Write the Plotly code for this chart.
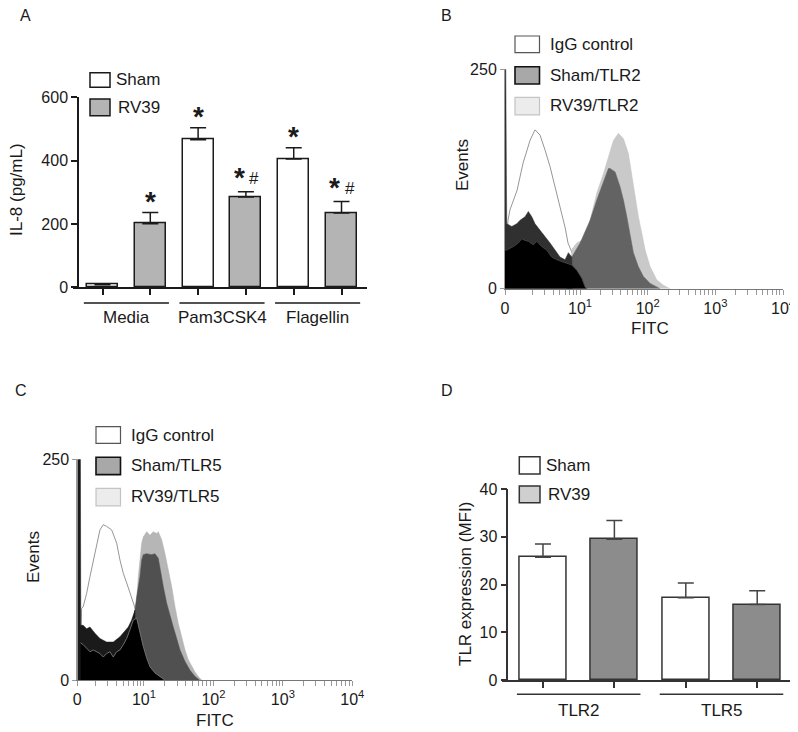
import numpy as np
import plotly.graph_objects as go

# the page body has an 8 px margin, so the figure is drawn 8 px in from the window corner
OFF = 8
W, H = 798 - OFF, 732 - OFF
FONT = "Liberation Sans, Arial, Helvetica, sans-serif"
INK = "#1a1a1a"

# ---------------- Panel A : IL-8 secretion ----------------
a_series = ["Sham", "RV39"]
a_groups = ["Media", "Pam3CSK4", "Flagellin"]
a_sham = [8, 466, 405]
a_sham_err = [0, 38, 36]
a_rv39 = [201, 285, 235]
a_rv39_err = [35, 17, 36]
a_sham_marks = ["", "*", "*"]
a_rv39_marks = ["*", "*#", "*#"]
a_yticks = [0, 200, 400, 600]

# ---------------- Panel D : TLR expression ----------------
d_series = ["Sham", "RV39"]
d_groups = ["TLR2", "TLR5"]
d_sham = [25.7, 17.2]
d_sham_err = [2.8, 3.1]
d_rv39 = [29.5, 15.8]
d_rv39_err = [3.9, 2.9]
d_yticks = [0, 10, 20, 30, 40]

# ---------------- Panels B / C : flow histograms ----------------
# x = FITC position in display decades, y = events
hist_ticktext = ["0", "10<sup>1</sup>", "10<sup>2</sup>", "10<sup>3</sup>", "10<sup>4</sup>"]

b_series = ["IgG control", "Sham/TLR2", "RV39/TLR2"]
b_igg_x = [-0.085, -0.065, -0.036, 0.068, 0.157, 0.260, 0.334, 0.408, 0.482, 0.556,
           0.630, 0.704, 0.778, 0.822, 0.882, 1.0, 1.148, 1.22]
b_igg_y = [60, 78, 90, 112, 143, 169, 181, 175, 158, 139, 116, 93, 70, 52, 41, 25, 5, 0]
b_rv39_x = [0.83, 0.88, 0.95, 1.05, 1.099, 1.247, 1.345, 1.419, 1.493, 1.567, 1.641,
            1.714, 1.765, 1.814, 1.862, 1.913, 1.962, 2.036, 2.135, 2.232, 2.331]
b_rv39_y = [0, 45, 52, 56, 62, 109, 131, 150, 169, 177, 171, 154, 128, 105, 82, 63,
            44, 25, 10, 4, 0]
b_sham_x = [0.80, 0.877, 1.0, 1.148, 1.247, 1.321, 1.370, 1.419, 1.444, 1.518, 1.592,
            1.641, 1.691, 1.740, 1.788, 1.862, 1.936, 2.036, 2.135, 2.183]
b_sham_y = [20, 36, 52, 78, 101, 116, 128, 137, 137, 133, 116, 101, 82, 59, 41, 25,
            14, 6, 2, 0]
# low-fluorescence populations (near zero)
b_low1_x = [-0.11, -0.098, -0.088, -0.084, -0.010, 0.064, 0.112, 0.186, 0.235, 0.286,
            0.334, 0.408, 0.482, 0.556, 0.630, 0.704, 0.778, 0.827, 0.877, 0.885]
b_low1_y = [250, 250, 110, 74, 71, 74, 78, 82, 88, 82, 74, 67, 59, 52, 44, 36, 33, 41, 36, 0]
b_low2_x = [-0.11, -0.084, 0.013, 0.087, 0.138, 0.186, 0.235, 0.309, 0.359, 0.433,
            0.507, 0.581, 0.655, 0.729, 0.803, 0.877, 0.951, 1.025, 1.074, 1.10]
b_low2_y = [44, 44, 48, 52, 57, 55, 54, 50, 54, 48, 44, 36, 33, 31, 29, 27, 21, 12, 2, 0]

c_series = ["IgG control", "Sham/TLR5", "RV39/TLR5"]
c_igg_x = [0.09, 0.102, 0.125, 0.174, 0.222, 0.270, 0.318, 0.366, 0.414, 0.462, 0.535,
           0.607, 0.654, 0.702, 0.751, 0.798, 0.846, 0.895, 0.99, 1.09, 1.13]
c_igg_y = [40, 81, 83, 98, 117, 136, 155, 170, 176, 174, 170, 155, 136, 121, 110, 98,
           87, 76, 42, 11, 0]
c_rv39_x = [0.85, 0.918, 0.967, 0.990, 1.039, 1.086, 1.134, 1.183, 1.206, 1.255, 1.303,
            1.350, 1.399, 1.447, 1.494, 1.543, 1.591, 1.638, 1.687, 1.735, 1.782, 1.831]
c_rv39_y = [40, 117, 155, 162, 168, 164, 168, 166, 168, 159, 143, 125, 106, 83, 64, 49,
            34, 23, 15, 9, 4, 0]
c_sham_x = [0.80, 0.870, 0.895, 0.942, 0.967, 0.990, 1.039, 1.111, 1.158, 1.206, 1.231,
            1.278, 1.327, 1.375, 1.422, 1.471, 1.519, 1.591, 1.663, 1.735, 1.782, 1.80]
c_sham_y = [40, 83, 94, 117, 136, 142, 143, 142, 143, 138, 125, 106, 87, 72, 60, 47,
            34, 21, 11, 4, 1, 0]
c_low1_x = [0.04, 0.085, 0.09, 0.125, 0.174, 0.222, 0.294, 0.366, 0.462, 0.558, 0.654,
            0.702, 0.774, 0.823, 0.870, 0.88]
c_low1_y = [250, 250, 62, 62, 58, 60, 53, 47, 43, 43, 49, 53, 60, 68, 79, 0]
c_low2_x = [0.088, 0.125, 0.174, 0.222, 0.270, 0.318, 0.366, 0.414, 0.462, 0.510, 0.558,
            0.607, 0.654, 0.702, 0.751, 0.798, 0.846, 0.895, 0.942, 0.990, 1.039, 1.086,
            1.158, 1.230, 1.300]
c_low2_y = [42, 40, 36, 32, 34, 32, 30, 26, 30, 32, 26, 32, 34, 40, 47, 57, 68, 70, 53,
            38, 25, 15, 8, 4, 0]


def px(x):
    return (x - OFF) / W


def py(y):
    return 1 - (y - OFF) / H


fig = go.Figure()
shapes = []
annotations = []


def text(s, x, y, size=17, xanchor="left", angle=0):
    annotations.append(dict(
        text=s, x=px(x), y=py(y), xref="paper", yref="paper",
        showarrow=False, xanchor=xanchor, yanchor="middle", textangle=angle,
        font=dict(family=FONT, size=size, color=INK),
    ))


def box(x0, y0, x1, y1, fill, line, lw=1.5):
    shapes.append(dict(type="rect", xref="paper", yref="paper",
                       x0=px(x0), x1=px(x1), y0=py(y1), y1=py(y0),
                       fillcolor=fill, line=dict(color=line, width=lw)))


# ---------- bar panels ----------
def bar_panel(xa, ya, sham, sham_err, rv39, rv39_err, rv_color, width, err_color, line_color):
    n = len(sham)
    fig.add_trace(go.Bar(
        x=[2 * i for i in range(n)], y=sham, width=width, xaxis=xa, yaxis=ya,
        marker=dict(color="white", line=dict(color=line_color, width=1.5)),
        error_y=dict(type="data", array=sham_err, arrayminus=[0] * n, symmetric=False,
                     color=err_color, thickness=1.5, width=8),
        showlegend=False,
    ))
    fig.add_trace(go.Bar(
        x=[2 * i + 1 for i in range(n)], y=rv39, width=width, xaxis=xa, yaxis=ya,
        marker=dict(color=rv_color, line=dict(color=line_color, width=1.5)),
        error_y=dict(type="data", array=rv39_err, arrayminus=[0] * n, symmetric=False,
                     color=err_color, thickness=1.5, width=8),
        showlegend=False,
    ))


bar_panel("x", "y", a_sham, a_sham_err, a_rv39, a_rv39_err, "#b4b4b4", 0.65, INK, INK)
bar_panel("x4", "y4", d_sham, d_sham_err, d_rv39, d_rv39_err, "#8c8c8c", 0.66, "#444", "#333")

# significance marks, panel A
for vals, errs, marks, off in [(a_sham, a_sham_err, a_sham_marks, 0), (a_rv39, a_rv39_err, a_rv39_marks, 1)]:
    for i, m in enumerate(marks):
        if not m:
            continue
        xpos = 2 * i + off
        top = vals[i] + errs[i]
        sx = xpos - 0.14 if "#" in m else xpos
        annotations.append(dict(text="<b>*</b>", x=sx, y=top, xref="x", yref="y",
                                showarrow=False, yanchor="middle",
                                yshift=14 if "#" in m else 11,
                                font=dict(family=FONT, size=28, color=INK)))
        if "#" in m:
            annotations.append(dict(text="#", x=xpos + 0.17, y=top, xref="x", yref="y",
                                    showarrow=False, yanchor="middle", yshift=13,
                                    font=dict(family=FONT, size=17, color=INK)))

# group underlines and labels
for xa, groups, half, yline, ylab, col in [("x", a_groups, 0.89, 303, 317, INK),
                                           ("x4", d_groups, 0.865, 694.3, 710, "#333")]:
    for g, name in enumerate(groups):
        c = 2 * g + 0.5
        shapes.append(dict(type="line", xref=xa, yref="paper", x0=c - half, x1=c + half,
                           y0=py(yline), y1=py(yline), line=dict(color=col, width=1.5)))
        annotations.append(dict(text=name, x=c, y=py(ylab), xref=xa, yref="paper",
                                showarrow=False, yanchor="middle",
                                font=dict(family=FONT, size=17, color=INK)))


# ---------- histogram panels ----------
def hist_layer(xa, ya, x, y, fill, line, lw):
    fig.add_trace(go.Scatter(x=x, y=y, mode="lines", fill="tozeroy", fillcolor=fill,
                             line=dict(color=line, width=lw, shape="linear"),
                             xaxis=xa, yaxis=ya, showlegend=False, hoverinfo="skip"))


hist_layer("x2", "y2", b_igg_x, b_igg_y, "white", "#8a8a8a", 0.9)
hist_layer("x2", "y2", b_rv39_x, b_rv39_y, "#c9c9c9", "#c0c0c0", 0.5)
hist_layer("x2", "y2", b_sham_x, b_sham_y, "#636363", "#636363", 0.5)
hist_layer("x2", "y2", b_low1_x, b_low1_y, "#303030", "#303030", 0.5)
hist_layer("x2", "y2", b_low2_x, b_low2_y, "black", "#4a4a4a", 0.8)

hist_layer("x3", "y3", c_igg_x, c_igg_y, "white", "#8a8a8a", 0.9)
hist_layer("x3", "y3", c_rv39_x, c_rv39_y, "#b6b6b6", "#b0b0b0", 0.5)
hist_layer("x3", "y3", c_sham_x, c_sham_y, "#505050", "#505050", 0.5)
hist_layer("x3", "y3", c_low1_x, c_low1_y, "#1a1a1a", "#1a1a1a", 0.5)
hist_layer("x3", "y3", c_low2_x, c_low2_y, "black", "#777777", 0.9)

minor = [k + np.log10(m) for k in range(4) for m in range(2, 10)]


def hist_xaxis(domain, x0, anchor):
    vals = [x0, 1, 2, 3, 4] + minor
    txt = hist_ticktext + [""] * len(minor)
    return dict(domain=domain, range=[x0, 4], anchor=anchor, tickmode="array",
                tickvals=vals, ticktext=txt, ticks="outside", ticklen=5, tickcolor="#999",
                showline=True, linecolor="#777", linewidth=1, showgrid=False, zeroline=False,
                automargin=False, tickfont=dict(family=FONT, size=16, color=INK))


def hist_yaxis(domain, anchor):
    return dict(domain=domain, range=[0, 250], anchor=anchor, tickvals=[0, 250],
                ticks="outside", ticklen=4, tickcolor="#999", showline=True, linecolor="#999",
                linewidth=1, showgrid=False, zeroline=False, automargin=False,
                tickfont=dict(family=FONT, size=16, color=INK))


def bar_xaxis(domain, rng, n, anchor, col):
    return dict(domain=domain, range=rng, anchor=anchor, tickvals=list(range(n)),
                showticklabels=False, ticks="outside", ticklen=6, tickwidth=1.5,
                tickcolor=col, showline=True, linecolor=col, linewidth=1.5,
                showgrid=False, zeroline=False, automargin=False)


def bar_yaxis(domain, rng, tickv, pos, col):
    return dict(domain=domain, range=rng, anchor="free", position=pos, tickvals=tickv,
                ticks="outside", ticklen=6, tickwidth=1.5, tickcolor=col, showline=True,
                linecolor=col, linewidth=1.5, showgrid=False, zeroline=False,
                automargin=False, tickfont=dict(family=FONT, size=16, color=INK))


# ---------- legends ----------
box(90, 72.7, 110, 87.3, "white", INK)
box(90, 99, 110, 115.7, "#b4b4b4", INK)
text(a_series[0], 114, 80)
text(a_series[1], 116, 107)

for x0, ys, names in [(515, [36, 66.7, 97.3], b_series), (96, [426.7, 457.3, 488.3], c_series)]:
    box(x0, ys[0], x0 + 24.5, ys[0] + 16.7, "white", "#555", 1.2)
    box(x0, ys[1], x0 + 24.5, ys[1] + 17.3, "#a8a8a8", "#111", 1.6)
    box(x0, ys[2], x0 + 24.5, ys[2] + 17.5, "#ececec", "#c4c4c4", 1.2)
    for yy, nm in zip(ys, names):
        text(nm, x0 + 33, yy + 8.5)

box(519.3, 456.7, 540, 474, "white", "#333")
box(519.3, 486, 540, 502.7, "#cfcfcf", "#333")
text(d_series[0], 544, 465)
text(d_series[1], 546, 494)

# ---------- axis titles and panel letters ----------
text("IL-8 (pg/mL)", 16, 190, xanchor="center", angle=-90)
text("Events", 463, 165, xanchor="center", angle=-90)
text("FITC", 650, 328, xanchor="center")
text("Events", 33, 557, xanchor="center", angle=-90)
text("FITC", 215, 720, xanchor="center")
text("TLR expression (MFI)", 465, 584, xanchor="center", angle=-90)
text("A", 25, 16, size=16, xanchor="center")
text("B", 447, 16, size=16, xanchor="center")
text("C", 21, 390, size=16, xanchor="center")
text("D", 447, 390, size=16, xanchor="center")

fig.update_layout(
    template="none",
    width=W, height=H, margin=dict(l=0, r=0, t=0, b=0, autoexpand=False),
    paper_bgcolor="white", plot_bgcolor="white", showlegend=False, bargap=0,
    font=dict(family=FONT, color=INK),
    xaxis=bar_xaxis([px(73), px(367)], [-0.617, 5.533], 6, "y", INK),
    yaxis=bar_yaxis([py(287.3), py(97.3)], [0, 600], a_yticks, px(78), INK),
    xaxis2=hist_xaxis([px(505), px(783)], -0.11, "y2"),
    yaxis2=hist_yaxis([py(288.7), py(69.3)], "x2"),
    xaxis3=hist_xaxis([px(77.3), px(352.3)], 0.04, "y3"),
    yaxis3=hist_yaxis([py(680), py(459.3)], "x3"),
    xaxis4=bar_xaxis([px(501.7), px(791.7)], [-0.578, 3.483], 4, "y4", "#333"),
    yaxis4=bar_yaxis([py(680), py(489)], [0, 40], d_yticks, px(507.3), "#333"),
    shapes=shapes, annotations=annotations,
)

fig.write_html("out.html")
